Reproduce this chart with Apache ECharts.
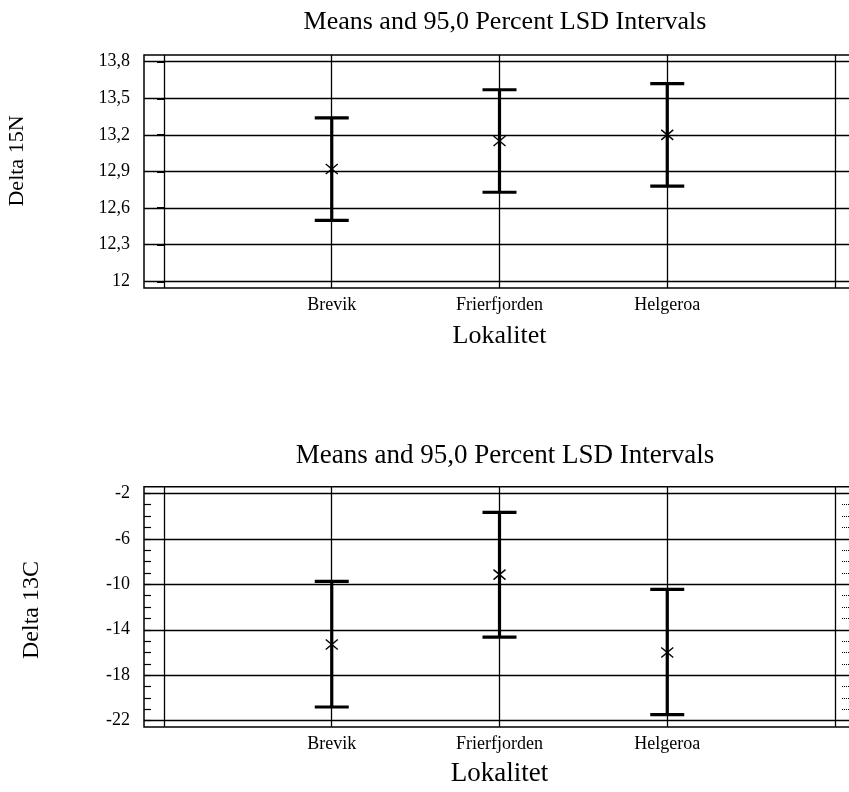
<!DOCTYPE html>
<html>
<head>
<meta charset="utf-8">
<script src="https://cdn.jsdelivr.net/npm/echarts@6/dist/echarts.min.js"></script>
<style>
html,body{margin:0;padding:0;background:#fff;}
#c{width:849px;height:792px;}
</style>
</head>
<body>
<div id="c"></div>
<script>
// ---- data ----
const categories = ['Brevik', 'Frierfjorden', 'Helgeroa'];
const catPos = [1, 2, 3];
const xGridPos = [0, 1, 2, 3, 4];

const n15Low  = [12.50, 12.73, 12.78];
const n15Mean = [12.92, 13.15, 13.20];
const n15High = [13.34, 13.57, 13.62];

const c13Low  = [-20.79, -14.64, -21.47];
const c13Mean = [-15.3, -9.15, -16.0];
const c13High = [-9.74, -3.67, -10.44];

const n15Ticks = [12, 12.3, 12.6, 12.9, 13.2, 13.5, 13.8];
const c13Ticks = [-22, -18, -14, -10, -6, -2];
const c13Minor = [-22,-21,-20,-19,-18,-17,-16,-15,-14,-13,-12,-11,-10,-9,-8,-7,-6,-5,-4,-3,-2];

const titleText = 'Means and 95,0 Percent LSD Intervals';
const xName = 'Lokalitet';
const yNameTop = 'Delta 15N';
const yNameBottom = 'Delta 13C';

// ---- chart ----
const FONT = '"Liberation Serif", "Times New Roman", serif';
const chart = echarts.init(document.getElementById('c'), null, {renderer: 'canvas'});

function fmt(v) { return String(+(+v).toFixed(1)).replace('.', ','); }

function errorBar(params, api) {
  const x = api.value(0), lo = api.value(1), m = api.value(2), hi = api.value(3);
  const pLo = api.coord([x, lo]);
  const pHi = api.coord([x, hi]);
  const pM = api.coord([x, m]);
  const cw = 17, s = 6;
  const thick = {stroke: '#000', lineWidth: 3.2, lineCap: 'butt'};
  const thin = {stroke: '#000', lineWidth: 1.4};
  return {
    type: 'group',
    children: [
      {type: 'line', shape: {x1: pLo[0], y1: pLo[1], x2: pHi[0], y2: pHi[1]}, style: thick},
      {type: 'line', shape: {x1: pHi[0] - cw, y1: pHi[1], x2: pHi[0] + cw, y2: pHi[1]}, style: thick},
      {type: 'line', shape: {x1: pLo[0] - cw, y1: pLo[1], x2: pLo[0] + cw, y2: pLo[1]}, style: thick},
      {type: 'line', shape: {x1: pM[0] - s, y1: pM[1] - s + 1, x2: pM[0] + s, y2: pM[1] + s - 1}, style: thin},
      {type: 'line', shape: {x1: pM[0] - s, y1: pM[1] + s - 1, x2: pM[0] + s, y2: pM[1] - s + 1}, style: thin}
    ]
  };
}

function gridLines(ticks) {
  return {
    silent: true,
    symbol: ['none', 'none'],
    label: {show: false},
    lineStyle: {color: '#000', width: 1.3, type: 'solid'},
    emphasis: {disabled: true},
    animation: false,
    data: ticks.map(v => ({yAxis: v})).concat(xGridPos.map(v => ({xAxis: v})))
  };
}

function xAxisDef(gi) {
  return {
    type: 'value', gridIndex: gi, min: -0.1192, max: 4.1192,
    axisLine: {show: false, onZero: false}, axisTick: {show: false}, splitLine: {show: false},
    axisLabel: {
      customValues: catPos,
      formatter: v => categories[catPos.indexOf(Math.round(v))] || '',
      color: '#000', fontFamily: FONT, fontSize: 18, margin: 8
    },
    name: xName, nameLocation: 'middle', nameGap: gi === 0 ? 35 : 33,
    nameTextStyle: {color: '#000', fontFamily: FONT, fontSize: gi === 0 ? 26 : 27}
  };
}

const option = {
  backgroundColor: '#fff',
  animation: false,
  title: [
    {text: titleText, left: 500, top: 4, textAlign: 'center',
     textStyle: {color: '#000', fontFamily: FONT, fontSize: 26, fontWeight: 'normal'}},
    {text: titleText, left: 500, top: 437, textAlign: 'center',
     textStyle: {color: '#000', fontFamily: FONT, fontSize: 27, fontWeight: 'normal'}}
  ],
  grid: [
    {left: 144, top: 55, width: 711, height: 233, show: true, borderColor: '#000', borderWidth: 1.5,
     backgroundColor: 'transparent', containLabel: false, outerBoundsMode: 'none'},
    {left: 144, top: 486.7, width: 711, height: 240.3, show: true, borderColor: '#000', borderWidth: 1.5,
     backgroundColor: 'transparent', containLabel: false, outerBoundsMode: 'none'}
  ],
  xAxis: [xAxisDef(0), xAxisDef(1)],
  yAxis: [
    {type: 'value', gridIndex: 0, min: 11.945, max: 13.855,
     axisLine: {show: false, onZero: false}, axisTick: {show: false}, splitLine: {show: false},
     axisLabel: {customValues: n15Ticks, formatter: fmt, color: '#000', fontFamily: FONT, fontSize: 18, margin: 14}},
    {type: 'value', gridIndex: 1, min: -22.55, max: -1.42,
     axisLine: {show: false, onZero: false}, splitLine: {show: false},
     axisTick: {show: true, inside: true, length: 7, customValues: c13Minor, lineStyle: {color: '#000', width: 1.2}},
     axisLabel: {customValues: c13Ticks, formatter: fmt, color: '#000', fontFamily: FONT, fontSize: 18, margin: 14}},
    {type: 'value', gridIndex: 1, position: 'right', min: -22.55, max: -1.42,
     axisLine: {show: false, onZero: false}, splitLine: {show: false}, axisLabel: {show: false},
     axisTick: {show: true, inside: true, length: 14, customValues: c13Minor, lineStyle: {color: '#000', width: 1, type: 'dotted'}}},
    {type: 'value', gridIndex: 0, position: 'left', offset: -20, min: 11.945, max: 13.855,
     axisLine: {show: false, onZero: false}, splitLine: {show: false}, axisLabel: {show: false},
     axisTick: {show: true, inside: false, length: 7, customValues: n15Ticks, lineStyle: {color: '#000', width: 2}}}
  ],
  graphic: [
    {type: 'text', x: 17, y: 161, rotation: Math.PI / 2,
     style: {text: yNameTop, fill: '#000', font: '22px ' + FONT, align: 'center', verticalAlign: 'middle'}},
    {type: 'text', x: 32, y: 610, rotation: Math.PI / 2,
     style: {text: yNameBottom, fill: '#000', font: '24px ' + FONT, align: 'center', verticalAlign: 'middle'}}
  ],
  series: [
    {type: 'custom', xAxisIndex: 0, yAxisIndex: 0, z: 1, data: [],
     renderItem: () => null, markLine: gridLines(n15Ticks)},
    {type: 'custom', xAxisIndex: 1, yAxisIndex: 1, z: 1, data: [],
     renderItem: () => null, markLine: gridLines(c13Ticks)},
    {type: 'custom', name: 'Delta 15N', xAxisIndex: 0, yAxisIndex: 0, z: 5, silent: true,
     encode: {x: 0, y: [1, 2, 3]},
     data: categories.map((c, i) => [catPos[i], n15Low[i], n15Mean[i], n15High[i]]),
     renderItem: errorBar},
    {type: 'custom', name: 'Delta 13C', xAxisIndex: 1, yAxisIndex: 1, z: 5, silent: true,
     encode: {x: 0, y: [1, 2, 3]},
     data: categories.map((c, i) => [catPos[i], c13Low[i], c13Mean[i], c13High[i]]),
     renderItem: errorBar}
  ]
};
chart.setOption(option);
</script>
</body>
</html>
